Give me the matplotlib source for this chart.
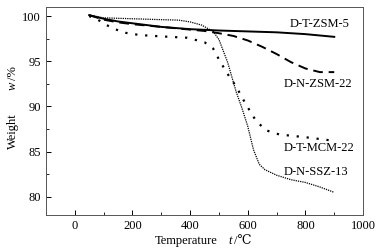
import matplotlib
matplotlib.use("Agg")
import matplotlib.pyplot as plt
from matplotlib.ticker import MultipleLocator

plt.rcParams['font.family'] = ['Liberation Serif', 'DejaVu Serif']

t_zsm5 = [50, 100, 150, 200, 300, 400, 500, 600, 700, 800, 900]
w_zsm5 = [100.1, 99.7, 99.4, 99.2, 98.8, 98.55, 98.4, 98.3, 98.2, 98.0, 97.7]

t_zsm22 = [50, 100, 150, 200, 300, 400, 450, 500, 550, 600, 650, 700, 750, 800, 850, 900]
w_zsm22 = [100.1, 99.6, 99.3, 99.1, 98.8, 98.5, 98.35, 98.1, 97.8, 97.3, 96.6, 95.8, 94.9, 94.2, 93.8, 93.8]

t_mcm22 = [50, 80, 110, 165, 225, 300, 390, 450, 480, 500, 530, 560, 580, 600, 625, 660, 710, 800, 900]
w_mcm22 = [100.0, 99.6, 99.0, 98.2, 97.9, 97.75, 97.6, 97.1, 96.4, 95.2, 93.6, 92.2, 91.0, 89.9, 88.6, 87.4, 86.9, 86.6, 86.2]

t_ssz13 = [50, 100, 200, 300, 360, 400, 440, 480, 500, 530, 560, 580, 600, 620, 640, 660, 700, 750, 800, 850, 900]
w_ssz13 = [100.1, 99.8, 99.7, 99.6, 99.55, 99.35, 99.0, 98.3, 97.4, 94.9, 91.6, 89.8, 87.8, 85.2, 83.6, 83.0, 82.4, 81.9, 81.6, 81.1, 80.5]

labels = ["D-T-ZSM-5", "D-N-ZSM-22", "D-T-MCM-22", "D-N-SSZ-13"]
label_pos = [(745, 99.1), (725, 92.5), (725, 85.4), (725, 82.8)]

W, H = 383, 250
fig = plt.figure(figsize=(W / 100, H / 100), dpi=100)
ax = fig.add_axes([0.120, 0.14, 0.828, 0.832])

ax.plot(t_zsm5, w_zsm5, color='black', lw=1.4, ls='-')
ax.plot(t_zsm22, w_zsm22, color='black', lw=1.4, ls=(0, (5, 3)))
ax.plot(t_mcm22, w_mcm22, color='black', lw=1.6, ls=(0, (1, 3.5)))
ax.plot(t_ssz13, w_ssz13, color='black', lw=0.9, ls=(0, (1, 0.8)))

for lab, (x, y) in zip(labels, label_pos):
    ax.text(x, y, lab, fontsize=9, va='center', ha='left')

ax.set_xlim(-100, 1000)
ax.set_ylim(78, 101)
ax.xaxis.set_major_locator(MultipleLocator(200))
ax.xaxis.set_minor_locator(MultipleLocator(100))
ax.yaxis.set_major_locator(MultipleLocator(5))
ax.yaxis.set_minor_locator(MultipleLocator(2.5))
ax.tick_params(direction='in', which='both', labelsize=9)
ax.tick_params(which='major', length=3.5, width=0.7)
ax.tick_params(which='minor', length=2, width=0.6)
for s in ax.spines.values():
    s.set_linewidth(0.7)
    s.set_color('#555555')

# axis labels built from pieces (italic symbol)
fs = 9
fig.text(155 / W, 1 - 244 / H, "Temperature", fontsize=fs, ha='left', va='baseline')
fig.text(228 / W, 1 - 244 / H, "t", fontsize=fs, style='italic', ha='left', va='baseline')
fig.text(234 / W, 1 - 244 / H, "/℃", fontsize=fs, ha='left', va='baseline')

fig.text(16 / W, 1 - 149 / H, "Weight", fontsize=fs, rotation=90, rotation_mode='anchor',
         ha='left', va='baseline')
fig.text(16 / W, 1 - 90 / H, "w", fontsize=fs, style='italic', rotation=90, rotation_mode='anchor',
         ha='left', va='baseline')
fig.text(16 / W, 1 - 80 / H, "/%", fontsize=fs, rotation=90, rotation_mode='anchor',
         ha='left', va='baseline')

fig.savefig("out.png", dpi=100)
